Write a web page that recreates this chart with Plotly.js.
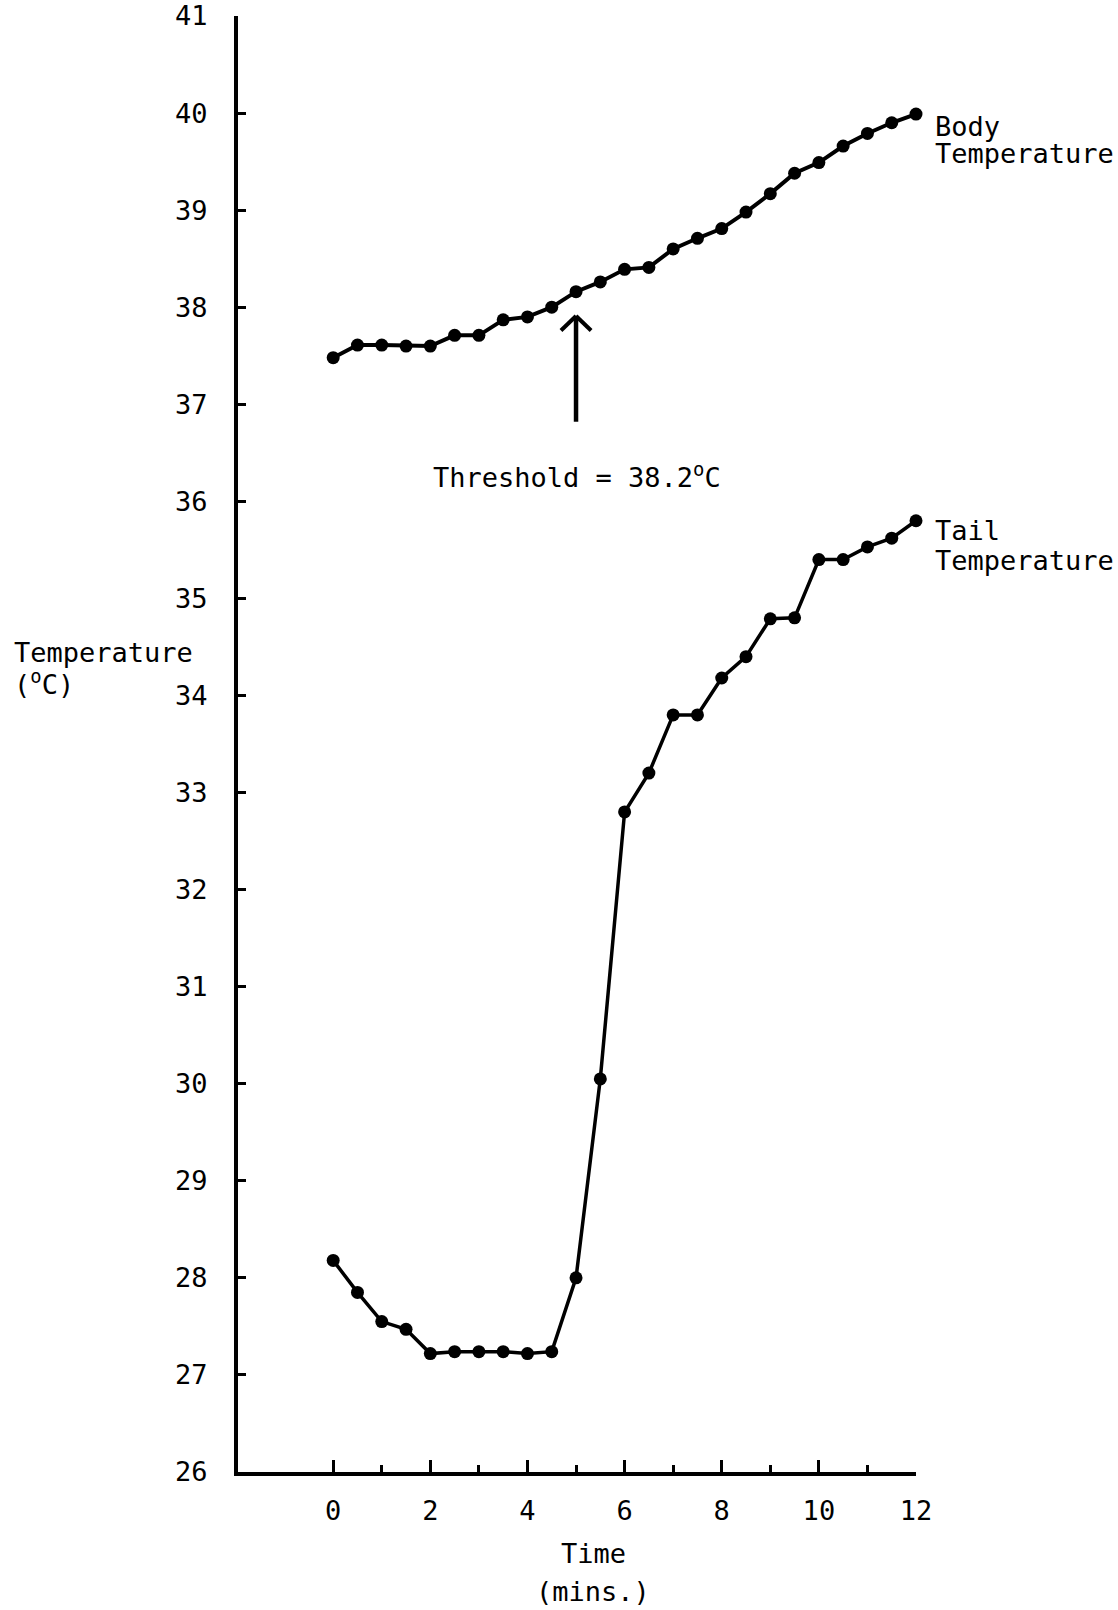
<!DOCTYPE html>
<html>
<head>
<meta charset="utf-8">
<script src="https://cdn.plot.ly/plotly-3.0.1.min.js"></script>
<style>html,body{margin:0;padding:0;background:#fff;}#chart{width:1118px;height:1610px;}</style>
</head>
<body>
<div id="chart"></div>
<script>
// Time (minutes)
const timeMins = [0,0.5,1,1.5,2,2.5,3,3.5,4,4.5,5,5.5,6,6.5,7,7.5,8,8.5,9,9.5,10,10.5,11,11.5,12];
// Body temperature (°C)
const bodyTemp = [37.48,37.61,37.61,37.6,37.6,37.71,37.71,37.87,37.9,38.0,38.16,38.26,38.39,38.41,38.6,38.71,38.81,38.98,39.17,39.38,39.49,39.66,39.79,39.9,39.99];
// Tail temperature (°C)
const tailTemp = [28.18,27.85,27.55,27.47,27.22,27.24,27.24,27.24,27.22,27.24,28.0,30.05,32.8,33.2,33.8,33.8,34.18,34.4,34.79,34.8,35.4,35.4,35.53,35.62,35.8];
// Axis tick labels
const xTickVals = [0,2,4,6,8,10,12];
const xMinorVals = [1,3,5,7,9,11];
const yTickVals = [26,27,28,29,30,31,32,33,34,35,36,37,38,39,40,41];
// Threshold marker
const thresholdTime = 5;
const thresholdLabel = 'Threshold = 38.2<sup>o</sup>C';

const FONT = 'DejaVu Sans Mono, Liberation Mono, monospace';
const fs = 27;

// plot area in pixels
const L = 238, T = 16, W = 678, H = 1456;
const px = v => (v - L) / W;          // pixel x -> paper
const py = v => (T + H - v) / H;      // pixel y -> paper

const traces = [
  {x: timeMins, y: bodyTemp, type: 'scatter', mode: 'lines+markers',
   line: {color: '#000', width: 4}, marker: {color: '#000', size: 13}, showlegend: false, cliponaxis: false},
  {x: timeMins, y: tailTemp, type: 'scatter', mode: 'lines+markers',
   line: {color: '#000', width: 3.5}, marker: {color: '#000', size: 13}, showlegend: false, cliponaxis: false}
];

function txt(x, y, text, xanchor) {
  return {x: px(x), y: py(y), xref: 'paper', yref: 'paper', text: text, showarrow: false,
          xanchor: xanchor || 'left', yanchor: 'middle', font: {family: FONT, size: fs, color: '#000'}};
}

const ann = [
  txt(933, 127, 'Body'),
  txt(933, 153, 'Temperature'),
  txt(933, 530, 'Tail'),
  txt(933, 560, 'Temperature'),
  txt(431, 475, thresholdLabel),
  txt(593, 1553, 'Time', 'center'),
  txt(593, 1591, '(mins.)', 'center'),
  txt(12, 652, 'Temperature'),
  txt(12, 682, '(<sup>o</sup>C)')
];

const arrowTipY = 37.91, arrowBaseY = 36.82, armY = 37.76, armDX = 0.31;
const shapes = [
  {type: 'line', xref: 'x', yref: 'y', x0: thresholdTime, x1: thresholdTime, y0: arrowBaseY, y1: arrowTipY, line: {color: '#000', width: 4.5}},
  {type: 'line', xref: 'x', yref: 'y', x0: thresholdTime - armDX, x1: thresholdTime, y0: armY, y1: arrowTipY, line: {color: '#000', width: 4}},
  {type: 'line', xref: 'x', yref: 'y', x0: thresholdTime + armDX, x1: thresholdTime, y0: armY, y1: arrowTipY, line: {color: '#000', width: 4}}
];

const layout = {
  width: 1118, height: 1610,
  margin: {l: L, r: 1118 - L - W, t: T, b: 1610 - T - H},
  paper_bgcolor: '#fff', plot_bgcolor: '#fff',
  font: {family: FONT, size: fs, color: '#000'},
  showlegend: false,
  xaxis: {
    range: [-1.96, 12], showgrid: false, zeroline: false,
    showline: true, linecolor: '#000', linewidth: 4,
    tickmode: 'array', tickvals: xTickVals, ticktext: xTickVals.map(String),
    ticks: 'inside', ticklen: 12, tickwidth: 3, tickcolor: '#000',
    ticklabelstandoff: 12,
    tickfont: {family: FONT, size: fs, color: '#000'},
    minor: {tickmode: 'array', tickvals: xMinorVals, ticks: 'inside', ticklen: 7, tickwidth: 3, tickcolor: '#000', showgrid: false},
    fixedrange: true
  },
  yaxis: {
    range: [26, 41], showgrid: false, zeroline: false,
    showline: true, linecolor: '#000', linewidth: 4,
    tickmode: 'array', tickvals: yTickVals, ticktext: yTickVals.map(String),
    ticks: 'inside', ticklen: 8, tickwidth: 3, tickcolor: '#000',
    ticklabelstandoff: 21,
    tickfont: {family: FONT, size: fs, color: '#000'},
    fixedrange: true
  },
  shapes: shapes,
  annotations: ann
};

Plotly.newPlot('chart', traces, layout, {displayModeBar: false, staticPlot: true});
</script>
</body>
</html>
